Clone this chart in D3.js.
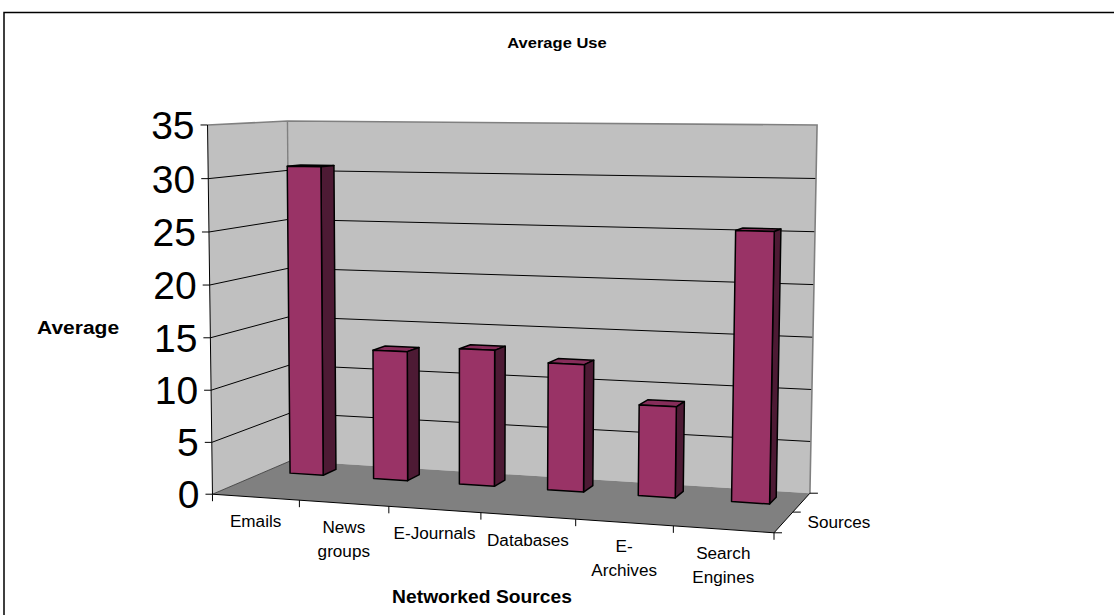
<!DOCTYPE html>
<html>
<head>
<meta charset="utf-8">
<script src="https://cdn.jsdelivr.net/npm/d3@7"></script>
<style>
  html, body { margin: 0; padding: 0; background: #fff; }
  svg { display: block; font-family: "Liberation Sans", Arial, sans-serif; }
</style>
</head>
<body>
<svg id="chart" width="1114" height="615"></svg>
<script>
// ---- data ----
const categories = ["Emails", "News groups", "E-Journals", "Databases", "E-Archives", "Search Engines"];
const categoryLines = [["Emails"], ["News", "groups"], ["E-Journals"], ["Databases"], ["E-", "Archives"], ["Search", "Engines"]];
const averageUse = [30.7, 12.8, 13.3, 12.3, 8.7, 25.4];
const valueTicks = [0, 5, 10, 15, 20, 25, 30, 35];
const seriesNames = ["Sources"];
const chartTitle = "Average Use";
const valueTitle = "Average";
const categoryTitle = "Networked Sources";

// ---- 3D frame: screen position of the plot box corners ----
// world coords: x along categories, y up the value axis, z into the page (all 0..1)
const boxCorners = [
  { w: [0, 0, 0], s: [213, 494] },
  { w: [0, 1, 0], s: [207, 125] },
  { w: [0, 0, 1], s: [290, 461] },
  { w: [0, 1, 1], s: [288, 121] },
  { w: [1, 1, 1], s: [817, 125] },
  { w: [1, 0, 1], s: [810, 493] },
  { w: [1, 0, 0], s: [774, 533] }
];

const W = 1114, H = 615;
const CX = 557, CY = 330, S = 300;

function solveLinear(A, b) {
  const n = b.length;
  const M = A.map((row, i) => [...row, b[i]]);
  for (let c = 0; c < n; c++) {
    let piv = c;
    for (let r = c + 1; r < n; r++) if (Math.abs(M[r][c]) > Math.abs(M[piv][c])) piv = r;
    [M[c], M[piv]] = [M[piv], M[c]];
    for (let r = 0; r < n; r++) {
      if (r === c) continue;
      const f = M[r][c] / M[c][c];
      for (let k = c; k <= n; k++) M[r][k] -= f * M[c][k];
    }
  }
  return M.map((row, i) => row[n] / row[i]);
}

// least-squares perspective camera (3x4 matrix, last entry fixed to 1)
function fitCamera(anchors) {
  const rows = [], rhs = [];
  anchors.forEach(({ w: [X, Y, Z], s: [u0, v0] }) => {
    const u = (u0 - CX) / S, v = (v0 - CY) / S;
    rows.push([X, Y, Z, 1, 0, 0, 0, 0, -u * X, -u * Y, -u * Z]); rhs.push(u);
    rows.push([0, 0, 0, 0, X, Y, Z, 1, -v * X, -v * Y, -v * Z]); rhs.push(v);
  });
  const n = 11;
  const AtA = Array.from({ length: n }, () => new Array(n).fill(0));
  const Atb = new Array(n).fill(0);
  rows.forEach((r, k) => {
    for (let i = 0; i < n; i++) {
      Atb[i] += r[i] * rhs[k];
      for (let j = 0; j < n; j++) AtA[i][j] += r[i] * r[j];
    }
  });
  return solveLinear(AtA, Atb);
}

const cam = fitCamera(boxCorners);
function project(x, y, z) {
  const w = cam[8] * x + cam[9] * y + cam[10] * z + 1;
  const u = (cam[0] * x + cam[1] * y + cam[2] * z + cam[3]) / w;
  const v = (cam[4] * x + cam[5] * y + cam[6] * z + cam[7]) / w;
  return [u * S + CX, v * S + CY];
}

// ---- scales ----
const xBand = d3.scaleBand().domain(categories).range([0, 1]).paddingInner(0.6).paddingOuter(0.3);
const yScale = d3.scaleLinear().domain([0, 35]).range([0, 1]);
const zBand = d3.scaleBand().domain(seriesNames).range([0.5, 1]).padding(0.47);
const xEdges = d3.range(categories.length + 1).map(i => i / categories.length);

const svg = d3.select("#chart");
svg.append("rect").attr("width", W).attr("height", H).attr("fill", "#fff");

// outer chart border
svg.append("rect")
  .attr("x", 4).attr("y", 12.5).attr("width", W + 10).attr("height", H)
  .attr("fill", "none").attr("stroke", "#000").attr("stroke-width", 1.5);

const closed = d3.line().curve(d3.curveLinearClosed);
const open = d3.line();
const P = pts => pts.map(p => project(...p));

const g = svg.append("g");

// walls and floor
g.append("path").attr("d", closed(P([[0, 0, 0], [0, 1, 0], [0, 1, 1], [0, 0, 1]]))).attr("fill", "#c0c0c0");
g.append("path").attr("d", closed(P([[0, 0, 1], [0, 1, 1], [1, 1, 1], [1, 0, 1]]))).attr("fill", "#c0c0c0");
g.append("path").attr("d", closed(P([[0, 0, 0], [1, 0, 0], [1, 0, 1], [0, 0, 1]]))).attr("fill", "#808080");

// major gridlines on the side and back walls
valueTicks.filter(t => t > 0 && t < 35).forEach(t => {
  const y = yScale(t);
  g.append("path").attr("d", open(P([[0, y, 0], [0, y, 1], [1, y, 1]])))
    .attr("fill", "none").attr("stroke", "#000").attr("stroke-width", 1);
});

// wall outlines
g.append("path").attr("d", open(P([[0, 1, 0], [0, 1, 1], [1, 1, 1], [1, 0, 1]])))
  .attr("fill", "none").attr("stroke", "#808080").attr("stroke-width", 1.6);
g.append("path").attr("d", open(P([[0, 0, 1], [0, 1, 1]])))
  .attr("fill", "none").attr("stroke", "#808080").attr("stroke-width", 1.4);
g.append("path").attr("d", open(P([[0, 0, 0], [0, 0, 1]])))
  .attr("fill", "none").attr("stroke", "#333").attr("stroke-width", 0.8);

// value axis
g.append("path").attr("d", open(P([[0, 0, 0], [0, 1, 0]])))
  .attr("fill", "none").attr("stroke", "#000").attr("stroke-width", 1);
valueTicks.forEach(t => {
  const [u, v] = project(0, yScale(t), 0);
  g.append("line").attr("x1", u - 7).attr("x2", u).attr("y1", v).attr("y2", v)
    .attr("stroke", "#000").attr("stroke-width", 1);
  g.append("text").attr("x", u - 13).attr("y", v).attr("dy", "0.36em")
    .attr("text-anchor", "end").attr("font-size", 39).attr("fill", "#000").text(t);
});

// category axis
g.append("path").attr("d", open(P([[0, 0, 0], [1, 0, 0]])))
  .attr("fill", "none").attr("stroke", "#000").attr("stroke-width", 1);
xEdges.forEach(x => {
  const [u, v] = project(x, 0, 0);
  g.append("line").attr("x1", u).attr("x2", u).attr("y1", v).attr("y2", v + 7)
    .attr("stroke", "#000").attr("stroke-width", 1);
});

// depth (series) axis
g.append("path").attr("d", open(P([[1, 0, 0], [1, 0, 1]])))
  .attr("fill", "none").attr("stroke", "#000").attr("stroke-width", 1);
[0, 0.5, 1].forEach(z => {
  const [u, v] = project(1, 0, z);
  g.append("line").attr("x1", u).attr("x2", u + 8).attr("y1", v).attr("y2", v)
    .attr("stroke", "#000").attr("stroke-width", 1);
});

// bars
const bars = g.append("g");
categories.forEach((c, i) => {
  const x0 = xBand(c), x1 = x0 + xBand.bandwidth();
  const h = yScale(averageUse[i]);
  const z0 = zBand(seriesNames[0]), z1 = z0 + zBand.bandwidth();
  const faces = [
    { pts: [[x0, h, z0], [x1, h, z0], [x1, h, z1], [x0, h, z1]], fill: "#862d5a" },
    { pts: [[x1, 0, z0], [x1, 0, z1], [x1, h, z1], [x1, h, z0]], fill: "#4d1a34" },
    { pts: [[x0, 0, z0], [x1, 0, z0], [x1, h, z0], [x0, h, z0]], fill: "#993366" }
  ];
  faces.forEach(f => {
    bars.append("path").attr("d", closed(P(f.pts)))
      .attr("fill", f.fill).attr("stroke", "#000").attr("stroke-width", 1.5)
      .attr("stroke-linejoin", "round");
  });
});

// stretch text slightly wider than the font's natural advance
function widen(sel, k) {
  sel.each(function () {
    const len = this.getComputedTextLength();
    d3.select(this).attr("textLength", len * k).attr("lengthAdjust", "spacingAndGlyphs");
  });
  return sel;
}

// category labels
categories.forEach((c, i) => {
  const [u, v] = project(xBand(c) + xBand.bandwidth() / 2, 0, 0);
  categoryLines[i].forEach((line, j) => {
    widen(g.append("text").attr("x", u).attr("y", v + 24 + j * 24).attr("dy", "0.36em")
      .attr("text-anchor", "middle").attr("font-size", 16).attr("fill", "#000").text(line), 1.07);
  });
});

// series label on the depth axis
{
  const [u, v] = project(1, 0, 0.25);
  widen(g.append("text").attr("x", u + 24).attr("y", v).attr("dy", "0.36em")
    .attr("font-size", 16).attr("fill", "#000").text(seriesNames[0]), 1.07);
}

// titles
widen(svg.append("text").attr("x", 557).attr("y", 48).attr("text-anchor", "middle")
  .attr("font-size", 15).attr("font-weight", "bold").text(chartTitle), 1.1);
widen(svg.append("text").attr("x", 37).attr("y", 334)
  .attr("font-size", 17.5).attr("font-weight", "bold").text(valueTitle), 1.2);
widen(svg.append("text").attr("x", 482).attr("y", 603).attr("text-anchor", "middle")
  .attr("font-size", 17.5).attr("font-weight", "bold").text(categoryTitle), 1.1);
</script>
</body>
</html>
